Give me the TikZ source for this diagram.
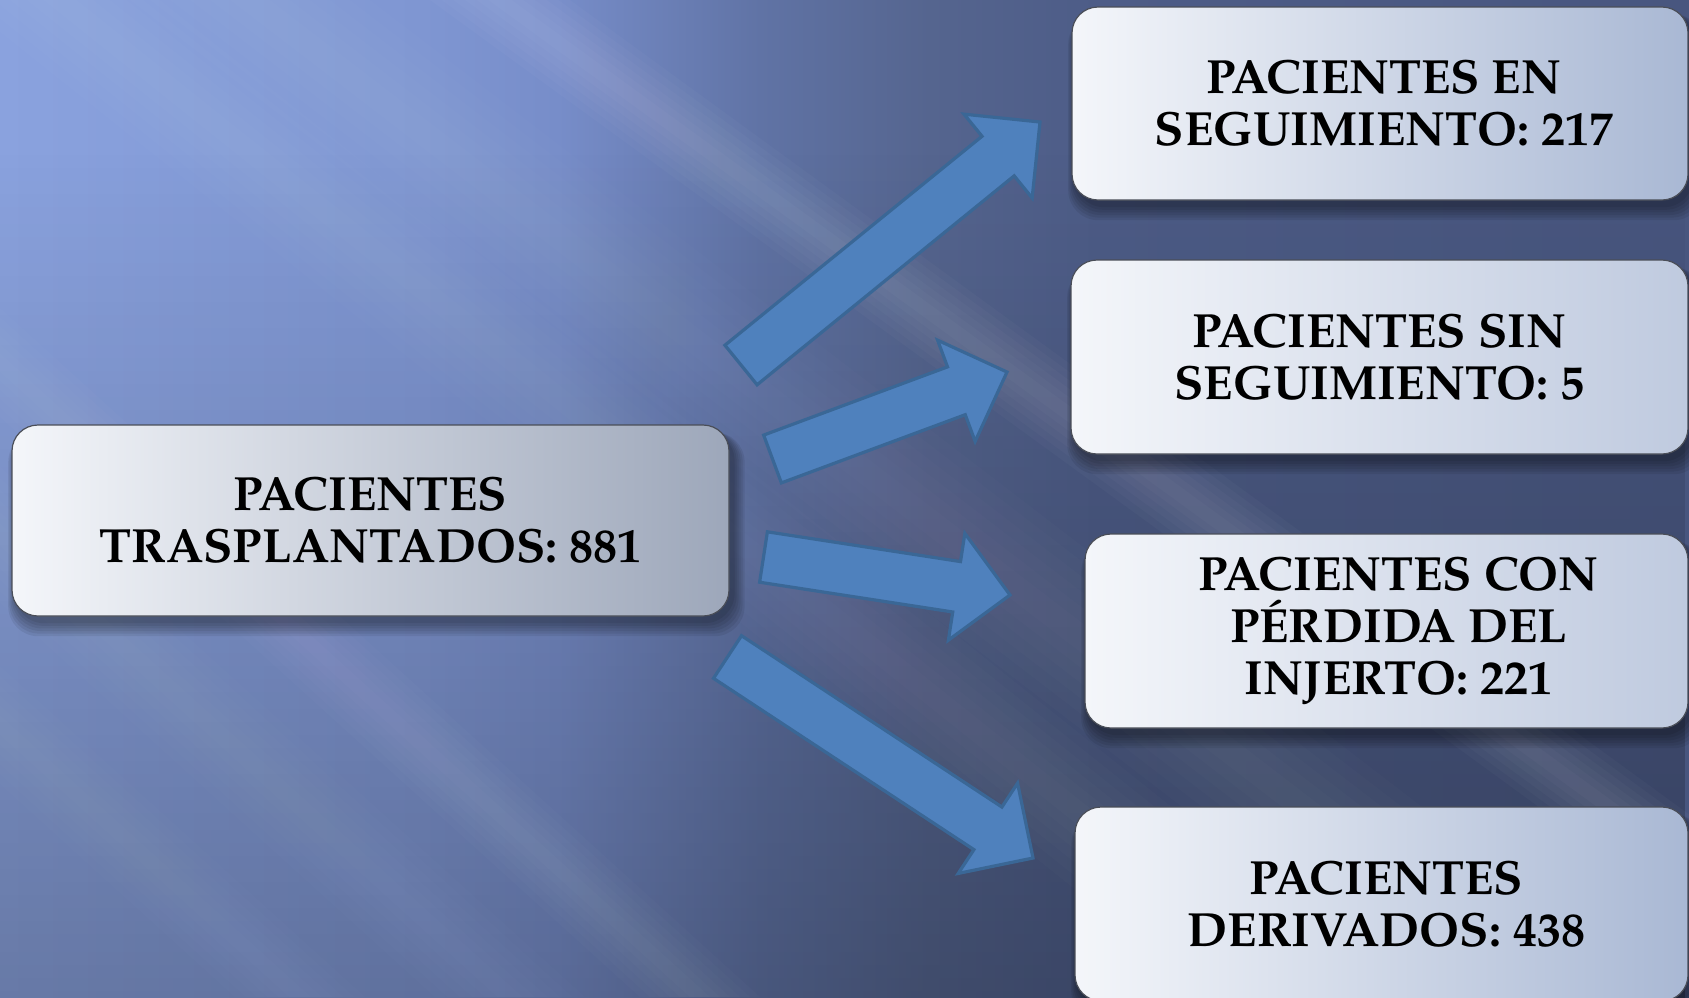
\documentclass[tikz,border=0pt]{standalone}
\usepackage{fontspec}
\newfontfamily\palb{texgyrepagella-bold.otf}
\usetikzlibrary{calc,fadings}
\definecolor{arrfill}{HTML}{4F81BD}
\definecolor{arrline}{HTML}{3A6796}
\definecolor{boxline}{HTML}{4A4E58}
\definecolor{bg0}{HTML}{8AA2DE}
\definecolor{bg1}{HTML}{7F96D2}
\definecolor{bg2}{HTML}{778DC9}
\definecolor{bg3}{HTML}{6073A5}
\definecolor{bg4}{HTML}{55658F}
\definecolor{bg5}{HTML}{4D5C87}
\definecolor{bg6}{HTML}{48567F}
\definecolor{boxL}{HTML}{F4F6FA}
\definecolor{boxRa}{HTML}{9DA7BA}
\definecolor{boxRb}{HTML}{A9B8D4}
\definecolor{boxRc}{HTML}{BFCADF}
% only the middle 50bp of a shading is fitted to the path
\pgfdeclarehorizontalshading{bgshade}{100bp}{color(0bp)=(bg0); color(25bp)=(bg0);
  color(37.5bp)=(bg1); color(41.5bp)=(bg2); color(47.5bp)=(bg3); color(52.5bp)=(bg4);
  color(57.5bp)=(bg5); color(75bp)=(bg6); color(100bp)=(bg6)}
\tikzfading[name=darkbottom, top color=transparent!100, bottom color=transparent!0]
\pgfdeclarelayer{bg}
\pgfdeclarelayer{shade}
\pgfsetlayers{bg,shade,main}
\newcommand\blockarrow[2]{%
  \draw[blockarr] let \p1=($(#2)-(#1)$), \n1={veclen(\x1,\y1)}, \n2={atan2(\y1,\x1)} in
    [shift={(#1)}, rotate=\n2]
    (0pt,-12.75pt) -- ({\n1-27pt},-12.75pt) -- ({\n1-27pt},-27pt) -- ({\n1*1pt},0pt)
    -- ({\n1-27pt},27pt) -- ({\n1-27pt},12.75pt) -- (0pt,12.75pt) -- cycle;}
% streak: x at top, width, opacity per layer, horizontal run over full height
\newcommand\streak[4]{%
  \foreach \k in {1,...,6}{
    \fill[white,opacity=#3] ({#1-#2*\k/12},0) -- ({#1+#2*\k/12},0)
      -- ({#1+#2*\k/12+#4},997) -- ({#1-#2*\k/12+#4},997) -- cycle;}}
\begin{document}
\begin{tikzpicture}[x=0.5pt,y=-0.5pt,
  box/.style={draw=boxline, line width=0.6pt, rounded corners=13pt, align=center,
    inner sep=0pt, text=black, font=\palb\fontsize{24}{26}\selectfont},
  blockarr/.style={fill=arrfill, draw=arrline, line width=1.6pt, line join=miter}]
\useasboundingbox (0,0) rectangle (1689,997);

% boxes
\node[box, left color=boxL, right color=boxRa, minimum width=358.5pt, minimum height=95.5pt]
  (b1) at (370.5,520.5) {PACIENTES\\TRASPLANTADOS: 881};
\node[box, left color=boxL, right color=boxRb, minimum width=308pt, minimum height=96.5pt]
  (b2) at (1380,103.5) {\hspace*{4pt}PACIENTES EN\\\hspace*{4pt}SEGUIMIENTO: 217};
\node[box, left color=boxL, right color=boxRc, minimum width=308.5pt, minimum height=97pt]
  (b3) at (1379.5,357) {PACIENTES SIN\\SEGUIMIENTO: 5};
\node[box, left color=boxL, right color=boxRc, minimum width=301.5pt, minimum height=97pt]
  (b4) at (1386.5,631) {\hspace*{12pt}PACIENTES CON\\\hspace*{12pt}P\'ERDIDA DEL\\\hspace*{12pt}INJERTO: 221};
\node[box, left color=boxL, right color=boxRb, minimum width=306.5pt, minimum height=97pt]
  (b5) at (1381.5,904) {\hspace*{5pt}PACIENTES\\\hspace*{5pt}DERIVADOS: 438};

% arrows
\coordinate (t1) at (741,365);   \coordinate (h1) at (1040,122);
\coordinate (t2) at (772.5,459); \coordinate (h2) at (1007,372);
\coordinate (t3) at (763.5,557); \coordinate (h3) at (1010,595);
\coordinate (t4) at (727.5,657); \coordinate (h4) at (1033,858);
\blockarrow{t1}{h1}
\blockarrow{t2}{h2}
\blockarrow{t3}{h3}
\blockarrow{t4}{h4}

% shadows
\begin{pgfonlayer}{shade}
\foreach \b in {b1,b2,b3,b4,b5}{
  \foreach \k in {1,...,6}{
    \fill[black, opacity=0.07, rounded corners=15pt]
      ([shift={(-\k*1.2+4, 6+\k*0.3)}]\b.north west) rectangle
      ([shift={(\k*2+3, \k*2.6+4)}]\b.south east);
  }}
\end{pgfonlayer}

% background
\begin{pgfonlayer}{bg}
\shade[shading=bgshade] (0,0) rectangle (1689,997);
\fill[black, opacity=0.32, path fading=darkbottom] (0,150) rectangle (1689,1250);
\streak{500}{140}{0.025}{1370}
\streak{250}{240}{0.01}{1300}
\streak{60}{200}{0.01}{1250}
\streak{-400}{120}{0.015}{1100}
\streak{-590}{150}{0.013}{1100}
\streak{-800}{130}{0.012}{1100}
\end{pgfonlayer}
\end{tikzpicture}
\end{document}
